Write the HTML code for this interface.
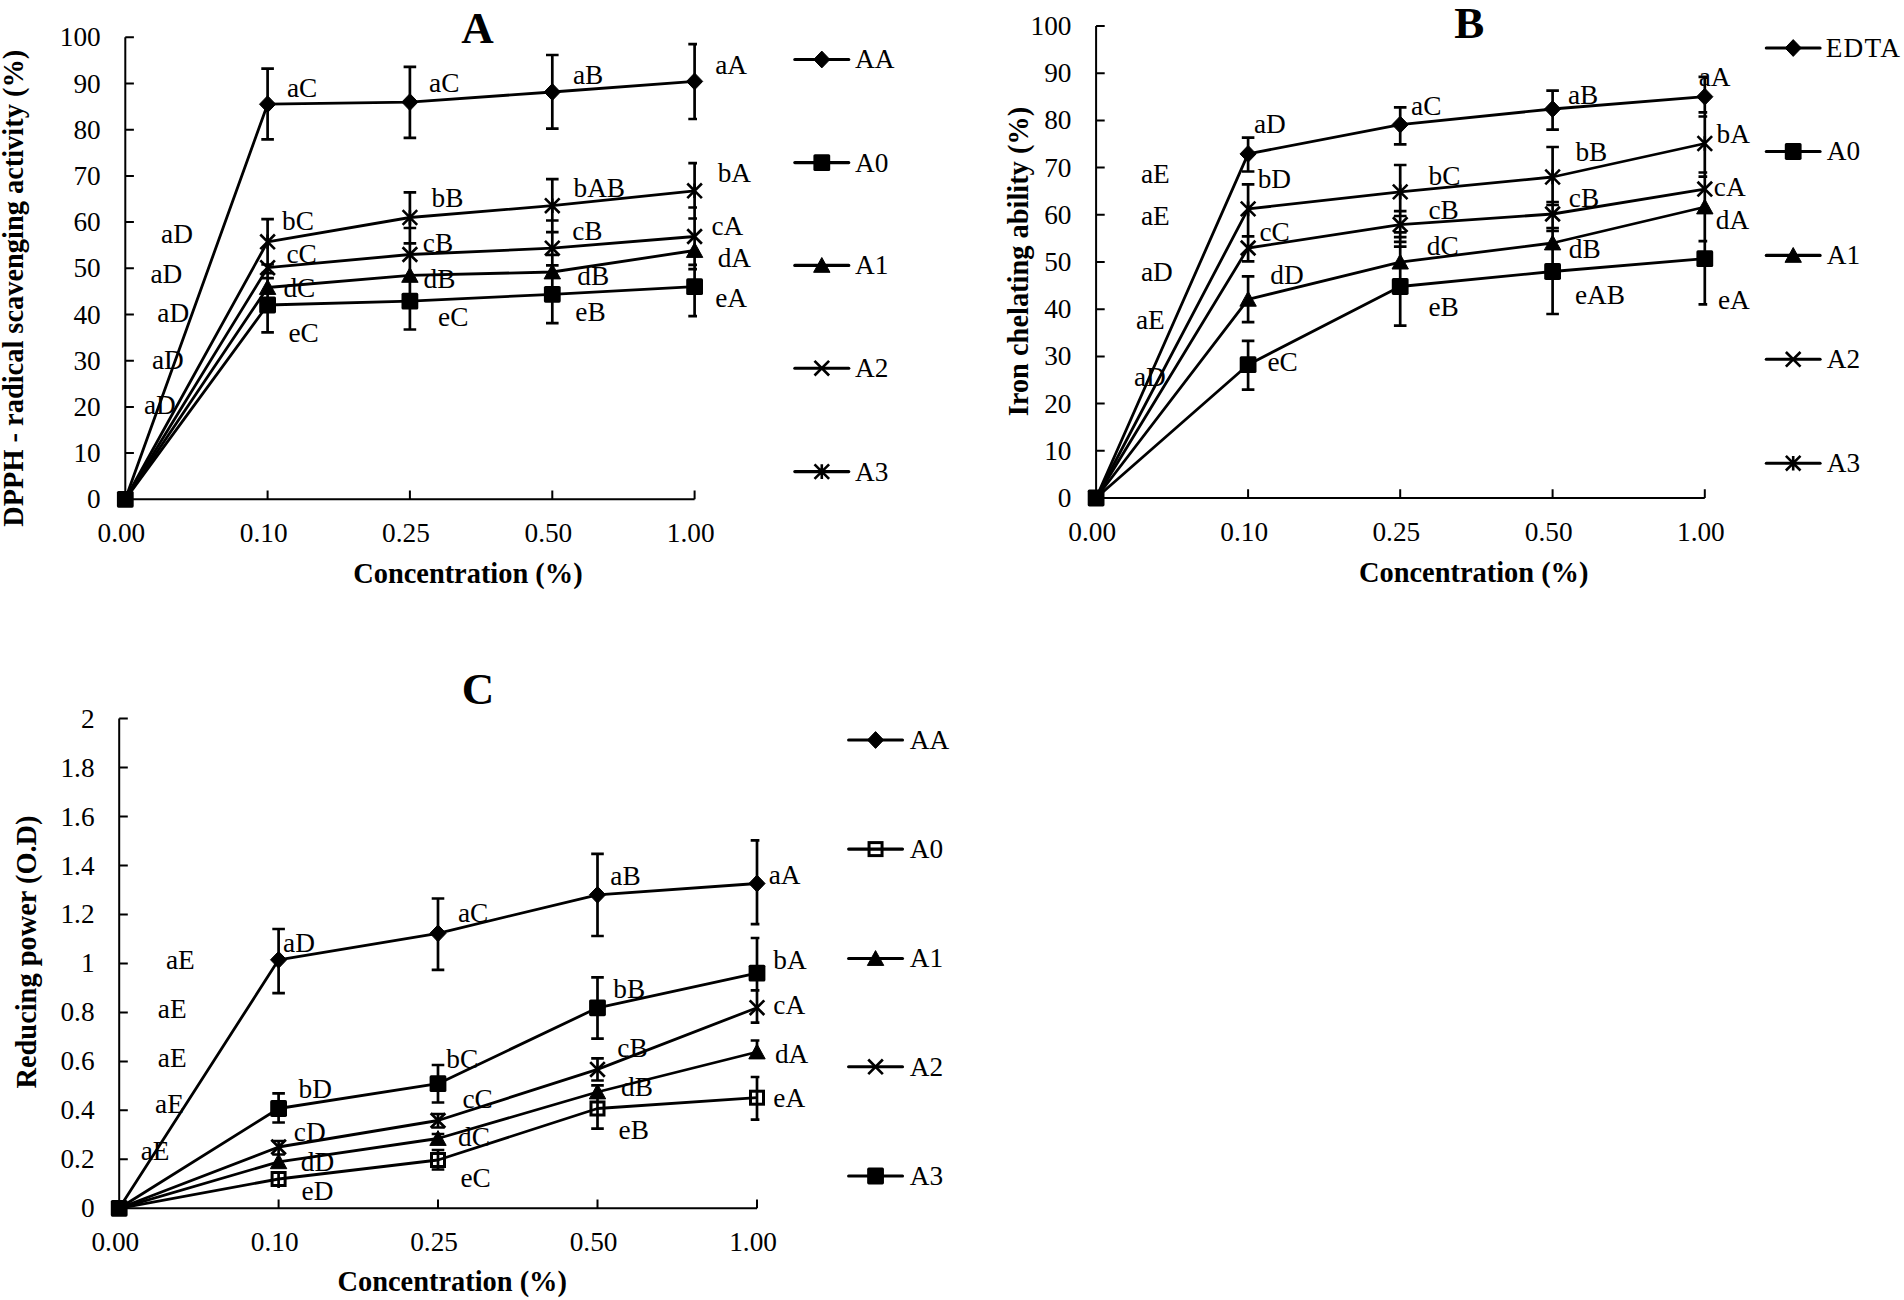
<!DOCTYPE html>
<html><head><meta charset="utf-8"><title>Figure</title>
<style>
html,body{margin:0;padding:0;background:#fff;}
body{width:1904px;height:1300px;overflow:hidden;}
svg{display:block;}
text{font-family:"Liberation Serif","Times New Roman",serif;fill:#000;}
</style></head>
<body>
<svg width="1904" height="1300" viewBox="0 0 1904 1300" font-size="27.3">
<rect width="1904" height="1300" fill="#fff"/>
<clipPath id="clipA"><rect x="105.3" y="0" width="591.7" height="1300"/></clipPath>
<path d="M125.3 37.3L125.3 499.3M125.3 499.3L133.9 499.3M125.3 453.1L133.9 453.1M125.3 406.9L133.9 406.9M125.3 360.7L133.9 360.7M125.3 314.5L133.9 314.5M125.3 268.3L133.9 268.3M125.3 222.1L133.9 222.1M125.3 175.9L133.9 175.9M125.3 129.7L133.9 129.7M125.3 83.5L133.9 83.5M125.3 37.3L133.9 37.3M125.3 499.3L694.6 499.3M267.6 499.3L267.6 490.5M409.9 499.3L409.9 490.5M552.3 499.3L552.3 490.5M694.6 499.3L694.6 490.5" stroke="#000" stroke-width="2" fill="none"/>
<text x="100.7" y="508.3" text-anchor="end">0</text>
<text x="100.7" y="462.1" text-anchor="end">10</text>
<text x="100.7" y="415.9" text-anchor="end">20</text>
<text x="100.7" y="369.7" text-anchor="end">30</text>
<text x="100.7" y="323.5" text-anchor="end">40</text>
<text x="100.7" y="277.3" text-anchor="end">50</text>
<text x="100.7" y="231.1" text-anchor="end">60</text>
<text x="100.7" y="184.9" text-anchor="end">70</text>
<text x="100.7" y="138.7" text-anchor="end">80</text>
<text x="100.7" y="92.5" text-anchor="end">90</text>
<text x="100.7" y="46.3" text-anchor="end">100</text>
<text x="121.4" y="541.9" text-anchor="middle">0.00</text>
<text x="263.7" y="541.9" text-anchor="middle">0.10</text>
<text x="406" y="541.9" text-anchor="middle">0.25</text>
<text x="548.4" y="541.9" text-anchor="middle">0.50</text>
<text x="690.7" y="541.9" text-anchor="middle">1.00</text>
<path d="M267.6 68.6L267.6 139.4M267.6 219.1L267.6 332.3M261.3 68.6L273.9 68.6M261.3 139.4L273.9 139.4M261.3 219.1L273.9 219.1M261.3 264.5L273.9 264.5M261.3 273.2L273.9 273.2M261.3 278.2L273.9 278.2M261.3 332.3L273.9 332.3M409.9 66.8L409.9 137.9M409.9 192.3L409.9 329.5M403.6 66.8L416.2 66.8M403.6 137.9L416.2 137.9M403.6 192.3L416.2 192.3M403.6 228L416.2 228M403.6 243.4L416.2 243.4M403.6 329.5L416.2 329.5M552.3 55L552.3 128.6M552.3 179.2L552.3 323.2M546 55L558.6 55M546 128.6L558.6 128.6M546 179.2L558.6 179.2M546 220.5L558.6 220.5M546 232.2L558.6 232.2M546 254.9L558.6 254.9M546 265.4L558.6 265.4M546 323.2L558.6 323.2M694.6 44.1L694.6 119M694.6 163.2L694.6 316.2M688.3 44.1L700.9 44.1M688.3 119L700.9 119M688.3 163.2L700.9 163.2M688.3 207.5L700.9 207.5M688.3 218.5L700.9 218.5M688.3 264.9L700.9 264.9M688.3 269.1L700.9 269.1M688.3 316.2L700.9 316.2" stroke="#000" stroke-width="2.7" fill="none" clip-path="url(#clipA)"/>
<path d="M125.3 499.3L267.6 104.2L409.9 102.1L552.3 92L694.6 81.4" stroke="#000" stroke-width="2.8" fill="none" stroke-linejoin="round"/>
<path d="M125.3 499.3L267.6 241.8L409.9 217.5L552.3 205.7L694.6 190.8" stroke="#000" stroke-width="2.8" fill="none" stroke-linejoin="round"/>
<path d="M125.3 499.3L267.6 267.7L409.9 254.5L552.3 248.2L694.6 236.5" stroke="#000" stroke-width="2.8" fill="none" stroke-linejoin="round"/>
<path d="M125.3 499.3L267.6 287.5L409.9 275.4L552.3 272L694.6 250.5" stroke="#000" stroke-width="2.8" fill="none" stroke-linejoin="round"/>
<path d="M125.3 499.3L267.6 305L409.9 301.2L552.3 294.3L694.6 286.7" stroke="#000" stroke-width="2.8" fill="none" stroke-linejoin="round"/>
<path d="M259.5 104.2L267.6 95.8L275.7 104.2L267.6 112.6Z" fill="#000" stroke="#000" stroke-width="1"/>
<path d="M401.8 102.1L409.9 93.7L418 102.1L409.9 110.5Z" fill="#000" stroke="#000" stroke-width="1"/>
<path d="M544.2 92L552.3 83.6L560.4 92L552.3 100.4Z" fill="#000" stroke="#000" stroke-width="1"/>
<path d="M686.5 81.4L694.6 73L702.7 81.4L694.6 89.8Z" fill="#000" stroke="#000" stroke-width="1"/>
<path d="M260.3 234.5L274.9 249.1M260.3 249.1L274.9 234.5M267.6 234.5L267.6 249.1" stroke="#000" stroke-width="2.6" fill="none"/>
<path d="M402.6 210.2L417.2 224.8M402.6 224.8L417.2 210.2M409.9 210.2L409.9 224.8" stroke="#000" stroke-width="2.6" fill="none"/>
<path d="M545 198.4L559.6 213M545 213L559.6 198.4M552.3 198.4L552.3 213" stroke="#000" stroke-width="2.6" fill="none"/>
<path d="M687.3 183.5L701.9 198.1M687.3 198.1L701.9 183.5M694.6 183.5L694.6 198.1" stroke="#000" stroke-width="2.6" fill="none"/>
<path d="M260.3 260.4L274.9 275M260.3 275L274.9 260.4" stroke="#000" stroke-width="2.7" fill="none"/>
<path d="M402.6 247.2L417.2 261.8M402.6 261.8L417.2 247.2" stroke="#000" stroke-width="2.7" fill="none"/>
<path d="M545 240.9L559.6 255.5M545 255.5L559.6 240.9" stroke="#000" stroke-width="2.7" fill="none"/>
<path d="M687.3 229.2L701.9 243.8M687.3 243.8L701.9 229.2" stroke="#000" stroke-width="2.7" fill="none"/>
<path d="M267.6 279.6L275.8 294.4L259.4 294.4Z" fill="#000" stroke="#000" stroke-width="1" stroke-linejoin="round"/>
<path d="M409.9 267.5L418.1 282.3L401.7 282.3Z" fill="#000" stroke="#000" stroke-width="1" stroke-linejoin="round"/>
<path d="M552.3 264.1L560.5 278.9L544.1 278.9Z" fill="#000" stroke="#000" stroke-width="1" stroke-linejoin="round"/>
<path d="M694.6 242.6L702.8 257.4L686.4 257.4Z" fill="#000" stroke="#000" stroke-width="1" stroke-linejoin="round"/>
<rect x="259.2" y="296.6" width="16.8" height="16.8" rx="1.6" fill="#000"/>
<rect x="401.5" y="292.8" width="16.8" height="16.8" rx="1.6" fill="#000"/>
<rect x="543.9" y="285.9" width="16.8" height="16.8" rx="1.6" fill="#000"/>
<rect x="686.2" y="278.3" width="16.8" height="16.8" rx="1.6" fill="#000"/>
<rect x="116.9" y="490.9" width="16.8" height="16.8" rx="1.6" fill="#000"/>
<text x="286.9" y="96.8">aC</text>
<text x="429.1" y="91.6">aC</text>
<text x="573" y="83.5">aB</text>
<text x="715.2" y="73.9">aA</text>
<text x="282.1" y="229.9">bC</text>
<text x="431.6" y="207">bB</text>
<text x="573.5" y="196.9">bAB</text>
<text x="717.7" y="182.3">bA</text>
<text x="286.5" y="263.3">cC</text>
<text x="422.8" y="251.6">cB</text>
<text x="572.2" y="239.8">cB</text>
<text x="711.4" y="235.2">cA</text>
<text x="283.4" y="296.7">dC</text>
<text x="423.5" y="288.4">dB</text>
<text x="577.3" y="284.6">dB</text>
<text x="717.7" y="266.7">dA</text>
<text x="288.4" y="341.5">eC</text>
<text x="438.1" y="325.7">eC</text>
<text x="575.3" y="320.6">eB</text>
<text x="715.2" y="306.8">eA</text>
<text x="161.1" y="243.2">aD</text>
<text x="150.4" y="283.1">aD</text>
<text x="157.3" y="321.9">aD</text>
<text x="152" y="369">aD</text>
<text x="143.9" y="413.9">aD</text>
<text x="461.3" y="42.6" font-weight="bold" font-size="45">A</text>
<text x="353.2" y="583" font-weight="bold" font-size="28.4">Concentration (%)</text>
<text x="23.4" y="288.3" text-anchor="middle" font-weight="bold" font-size="28.4" transform="rotate(-90 23.4 288.3)">DPPH - radical scavenging activity (%)</text>
<path d="M794.8 59.5L848.8 59.5" stroke="#000" stroke-width="3.1" stroke-linecap="round"/>
<path d="M813.7 59.5L821.8 51.1L829.9 59.5L821.8 67.9Z" fill="#000" stroke="#000" stroke-width="1"/>
<text x="855" y="68.4">AA</text>
<path d="M794.8 162.6L848.8 162.6" stroke="#000" stroke-width="3.1" stroke-linecap="round"/>
<rect x="813.4" y="154.2" width="16.8" height="16.8" rx="1.6" fill="#000"/>
<text x="855" y="171.5">A0</text>
<path d="M794.8 265.4L848.8 265.4" stroke="#000" stroke-width="3.1" stroke-linecap="round"/>
<path d="M821.8 257.5L830 272.3L813.6 272.3Z" fill="#000" stroke="#000" stroke-width="1" stroke-linejoin="round"/>
<text x="855" y="274.3">A1</text>
<path d="M794.8 368.2L848.8 368.2" stroke="#000" stroke-width="3.1" stroke-linecap="round"/>
<path d="M814.5 360.9L829.1 375.5M814.5 375.5L829.1 360.9" stroke="#000" stroke-width="2.7" fill="none"/>
<text x="855" y="377.1">A2</text>
<path d="M794.8 471.6L848.8 471.6" stroke="#000" stroke-width="3.1" stroke-linecap="round"/>
<path d="M814.5 464.3L829.1 478.9M814.5 478.9L829.1 464.3M821.8 464.3L821.8 478.9" stroke="#000" stroke-width="2.6" fill="none"/>
<text x="855" y="480.5">A3</text>
<clipPath id="clipB"><rect x="1076.1" y="0" width="631.1" height="1300"/></clipPath>
<path d="M1096.1 26L1096.1 498M1096.1 498L1104.7 498M1096.1 450.8L1104.7 450.8M1096.1 403.6L1104.7 403.6M1096.1 356.4L1104.7 356.4M1096.1 309.2L1104.7 309.2M1096.1 262L1104.7 262M1096.1 214.8L1104.7 214.8M1096.1 167.6L1104.7 167.6M1096.1 120.4L1104.7 120.4M1096.1 73.2L1104.7 73.2M1096.1 26L1104.7 26M1096.1 498L1704.8 498M1248.1 498L1248.1 489.2M1400.2 498L1400.2 489.2M1552.6 498L1552.6 489.2M1704.8 498L1704.8 489.2" stroke="#000" stroke-width="2" fill="none"/>
<text x="1071.5" y="507" text-anchor="end">0</text>
<text x="1071.5" y="459.8" text-anchor="end">10</text>
<text x="1071.5" y="412.6" text-anchor="end">20</text>
<text x="1071.5" y="365.4" text-anchor="end">30</text>
<text x="1071.5" y="318.2" text-anchor="end">40</text>
<text x="1071.5" y="271" text-anchor="end">50</text>
<text x="1071.5" y="223.8" text-anchor="end">60</text>
<text x="1071.5" y="176.6" text-anchor="end">70</text>
<text x="1071.5" y="129.4" text-anchor="end">80</text>
<text x="1071.5" y="82.2" text-anchor="end">90</text>
<text x="1071.5" y="35" text-anchor="end">100</text>
<text x="1092.2" y="540.6" text-anchor="middle">0.00</text>
<text x="1244.2" y="540.6" text-anchor="middle">0.10</text>
<text x="1396.3" y="540.6" text-anchor="middle">0.25</text>
<text x="1548.7" y="540.6" text-anchor="middle">0.50</text>
<text x="1700.9" y="540.6" text-anchor="middle">1.00</text>
<path d="M1248.1 137.7L1248.1 171.5M1248.1 184.4L1248.1 261.3M1248.1 276.4L1248.1 322.1M1248.1 340.8L1248.1 389.6M1241.8 137.7L1254.4 137.7M1241.8 171.5L1254.4 171.5M1241.8 184.4L1254.4 184.4M1241.8 236.3L1254.4 236.3M1241.8 261.3L1254.4 261.3M1241.8 276.4L1254.4 276.4M1241.8 322.1L1254.4 322.1M1241.8 340.8L1254.4 340.8M1241.8 389.6L1254.4 389.6M1400.2 107.3L1400.2 144.4M1400.2 165L1400.2 325.6M1393.9 107.3L1406.5 107.3M1393.9 144.4L1406.5 144.4M1393.9 165L1406.5 165M1393.9 211.2L1406.5 211.2M1393.9 216L1406.5 216M1393.9 232.3L1406.5 232.3M1393.9 237.1L1406.5 237.1M1393.9 241.9L1406.5 241.9M1393.9 246.7L1406.5 246.7M1393.9 325.6L1406.5 325.6M1552.6 90.6L1552.6 129.6M1552.6 147L1552.6 314M1546.3 90.6L1558.9 90.6M1546.3 129.6L1558.9 129.6M1546.3 147L1558.9 147M1546.3 202L1558.9 202M1546.3 205L1558.9 205M1546.3 228L1558.9 228M1546.3 231L1558.9 231M1546.3 314L1558.9 314M1704.8 76.9L1704.8 304.4M1698.5 76.9L1711.1 76.9M1698.5 112.3L1711.1 112.3M1698.5 116.5L1711.1 116.5M1698.5 172.5L1711.1 172.5M1698.5 176.7L1711.1 176.7M1698.5 241.1L1711.1 241.1M1698.5 304.4L1711.1 304.4" stroke="#000" stroke-width="2.7" fill="none" clip-path="url(#clipB)"/>
<path d="M1096.1 498L1248.1 153.9L1400.2 124.6L1552.6 109L1704.8 96.7" stroke="#000" stroke-width="2.8" fill="none" stroke-linejoin="round"/>
<path d="M1096.1 498L1248.1 208.9L1400.2 191.9L1552.6 177L1704.8 143.5" stroke="#000" stroke-width="2.8" fill="none" stroke-linejoin="round"/>
<path d="M1096.1 498L1248.1 248L1400.2 224.6L1552.6 214L1704.8 189.1" stroke="#000" stroke-width="2.8" fill="none" stroke-linejoin="round"/>
<path d="M1096.1 498L1248.1 299.3L1400.2 262.1L1552.6 243L1704.8 207" stroke="#000" stroke-width="2.8" fill="none" stroke-linejoin="round"/>
<path d="M1096.1 498L1248.1 364.7L1400.2 286.5L1552.6 271.5L1704.8 258.7" stroke="#000" stroke-width="2.8" fill="none" stroke-linejoin="round"/>
<path d="M1240 153.9L1248.1 145.5L1256.2 153.9L1248.1 162.3Z" fill="#000" stroke="#000" stroke-width="1"/>
<path d="M1392.1 124.6L1400.2 116.2L1408.3 124.6L1400.2 133Z" fill="#000" stroke="#000" stroke-width="1"/>
<path d="M1544.5 109L1552.6 100.6L1560.7 109L1552.6 117.4Z" fill="#000" stroke="#000" stroke-width="1"/>
<path d="M1696.7 96.7L1704.8 88.3L1712.9 96.7L1704.8 105.1Z" fill="#000" stroke="#000" stroke-width="1"/>
<path d="M1240.8 201.6L1255.4 216.2M1240.8 216.2L1255.4 201.6M1248.1 201.6L1248.1 216.2" stroke="#000" stroke-width="2.6" fill="none"/>
<path d="M1392.9 184.6L1407.5 199.2M1392.9 199.2L1407.5 184.6M1400.2 184.6L1400.2 199.2" stroke="#000" stroke-width="2.6" fill="none"/>
<path d="M1545.3 169.7L1559.9 184.3M1545.3 184.3L1559.9 169.7M1552.6 169.7L1552.6 184.3" stroke="#000" stroke-width="2.6" fill="none"/>
<path d="M1697.5 136.2L1712.1 150.8M1697.5 150.8L1712.1 136.2M1704.8 136.2L1704.8 150.8" stroke="#000" stroke-width="2.6" fill="none"/>
<path d="M1240.8 240.7L1255.4 255.3M1240.8 255.3L1255.4 240.7" stroke="#000" stroke-width="2.7" fill="none"/>
<path d="M1392.9 217.3L1407.5 231.9M1392.9 231.9L1407.5 217.3" stroke="#000" stroke-width="2.7" fill="none"/>
<path d="M1545.3 206.7L1559.9 221.3M1545.3 221.3L1559.9 206.7" stroke="#000" stroke-width="2.7" fill="none"/>
<path d="M1697.5 181.8L1712.1 196.4M1697.5 196.4L1712.1 181.8" stroke="#000" stroke-width="2.7" fill="none"/>
<path d="M1248.1 291.4L1256.3 306.2L1239.9 306.2Z" fill="#000" stroke="#000" stroke-width="1" stroke-linejoin="round"/>
<path d="M1400.2 254.2L1408.4 269L1392 269Z" fill="#000" stroke="#000" stroke-width="1" stroke-linejoin="round"/>
<path d="M1552.6 235.1L1560.8 249.9L1544.4 249.9Z" fill="#000" stroke="#000" stroke-width="1" stroke-linejoin="round"/>
<path d="M1704.8 199.1L1713 213.9L1696.6 213.9Z" fill="#000" stroke="#000" stroke-width="1" stroke-linejoin="round"/>
<rect x="1239.7" y="356.3" width="16.8" height="16.8" rx="1.6" fill="#000"/>
<rect x="1391.8" y="278.1" width="16.8" height="16.8" rx="1.6" fill="#000"/>
<rect x="1544.2" y="263.1" width="16.8" height="16.8" rx="1.6" fill="#000"/>
<rect x="1696.4" y="250.3" width="16.8" height="16.8" rx="1.6" fill="#000"/>
<rect x="1087.7" y="489.6" width="16.8" height="16.8" rx="1.6" fill="#000"/>
<text x="1253.9" y="133.1">aD</text>
<text x="1411.1" y="114.5">aC</text>
<text x="1568" y="103.5">aB</text>
<text x="1698.7" y="85.6">aA</text>
<text x="1257.7" y="188.1">bD</text>
<text x="1428.5" y="185.2">bC</text>
<text x="1575.4" y="161.3">bB</text>
<text x="1716.6" y="142.8">bA</text>
<text x="1259.5" y="241">cC</text>
<text x="1428.5" y="219.1">cB</text>
<text x="1568.8" y="206.7">cB</text>
<text x="1713.8" y="195.7">cA</text>
<text x="1270.3" y="283.9">dD</text>
<text x="1426.8" y="254.8">dC</text>
<text x="1568.8" y="257.6">dB</text>
<text x="1715.8" y="229.2">dA</text>
<text x="1267.5" y="371">eC</text>
<text x="1428.5" y="316.2">eB</text>
<text x="1574.9" y="303.5">eAB</text>
<text x="1718" y="308.5">eA</text>
<text x="1141" y="183.1">aE</text>
<text x="1141" y="224.7">aE</text>
<text x="1141" y="280.6">aD</text>
<text x="1136" y="328.7">aE</text>
<text x="1133.9" y="386.2">aD</text>
<text x="1454.2" y="37.7" font-weight="bold" font-size="45">B</text>
<text x="1359" y="582.2" font-weight="bold" font-size="28.4">Concentration (%)</text>
<text x="1027.7" y="261.5" text-anchor="middle" font-weight="bold" font-size="28.4" transform="rotate(-90 1027.7 261.5)">Iron chelating ability (%)</text>
<path d="M1766.3 48L1820.1 48" stroke="#000" stroke-width="3.1" stroke-linecap="round"/>
<path d="M1785.1 48L1793.2 39.6L1801.3 48L1793.2 56.4Z" fill="#000" stroke="#000" stroke-width="1"/>
<text x="1825.7" y="56.9" letter-spacing="1.25">EDTA</text>
<path d="M1766.3 151.5L1820.1 151.5" stroke="#000" stroke-width="3.1" stroke-linecap="round"/>
<rect x="1784.8" y="143.1" width="16.8" height="16.8" rx="1.6" fill="#000"/>
<text x="1826.7" y="160.4">A0</text>
<path d="M1766.3 255.4L1820.1 255.4" stroke="#000" stroke-width="3.1" stroke-linecap="round"/>
<path d="M1793.2 247.5L1801.4 262.3L1785 262.3Z" fill="#000" stroke="#000" stroke-width="1" stroke-linejoin="round"/>
<text x="1826.7" y="264.3">A1</text>
<path d="M1766.3 359.3L1820.1 359.3" stroke="#000" stroke-width="3.1" stroke-linecap="round"/>
<path d="M1785.9 352L1800.5 366.6M1785.9 366.6L1800.5 352" stroke="#000" stroke-width="2.7" fill="none"/>
<text x="1826.7" y="368.2">A2</text>
<path d="M1766.3 463.2L1820.1 463.2" stroke="#000" stroke-width="3.1" stroke-linecap="round"/>
<path d="M1785.9 455.9L1800.5 470.5M1785.9 470.5L1800.5 455.9M1793.2 455.9L1793.2 470.5" stroke="#000" stroke-width="2.6" fill="none"/>
<text x="1826.7" y="472.1">A3</text>
<clipPath id="clipC"><rect x="99.2" y="0" width="660.2" height="1300"/></clipPath>
<path d="M119.2 718.6L119.2 1208.3M119.2 1208.3L127.8 1208.3M119.2 1159.33L127.8 1159.33M119.2 1110.36L127.8 1110.36M119.2 1061.39L127.8 1061.39M119.2 1012.42L127.8 1012.42M119.2 963.45L127.8 963.45M119.2 914.48L127.8 914.48M119.2 865.51L127.8 865.51M119.2 816.54L127.8 816.54M119.2 767.57L127.8 767.57M119.2 718.6L127.8 718.6M119.2 1208.3L757 1208.3M278.6 1208.3L278.6 1199.5M438 1208.3L438 1199.5M597.5 1208.3L597.5 1199.5M757 1208.3L757 1199.5" stroke="#000" stroke-width="2" fill="none"/>
<text x="94.6" y="1217.3" text-anchor="end">0</text>
<text x="94.6" y="1168.33" text-anchor="end">0.2</text>
<text x="94.6" y="1119.36" text-anchor="end">0.4</text>
<text x="94.6" y="1070.39" text-anchor="end">0.6</text>
<text x="94.6" y="1021.42" text-anchor="end">0.8</text>
<text x="94.6" y="972.45" text-anchor="end">1</text>
<text x="94.6" y="923.48" text-anchor="end">1.2</text>
<text x="94.6" y="874.51" text-anchor="end">1.4</text>
<text x="94.6" y="825.54" text-anchor="end">1.6</text>
<text x="94.6" y="776.57" text-anchor="end">1.8</text>
<text x="94.6" y="727.6" text-anchor="end">2</text>
<text x="115.3" y="1250.9" text-anchor="middle">0.00</text>
<text x="274.7" y="1250.9" text-anchor="middle">0.10</text>
<text x="434.1" y="1250.9" text-anchor="middle">0.25</text>
<text x="593.6" y="1250.9" text-anchor="middle">0.50</text>
<text x="753.1" y="1250.9" text-anchor="middle">1.00</text>
<path d="M278.6 929L278.6 993.2M278.6 1093.4L278.6 1122.5M278.6 1141L278.6 1154.5M278.6 1171L278.6 1188M272.3 929L284.9 929M272.3 993.2L284.9 993.2M272.3 1093.4L284.9 1093.4M272.3 1122.5L284.9 1122.5M272.3 1141L284.9 1141M272.3 1154.5L284.9 1154.5M438 898.5L438 969.8M438 1065L438 1102.5M438 1114L438 1127.5M438 1134L438 1143M438 1150L438 1169.5M431.7 898.5L444.3 898.5M431.7 969.8L444.3 969.8M431.7 1065L444.3 1065M431.7 1102.5L444.3 1102.5M431.7 1114L444.3 1114M431.7 1127.5L444.3 1127.5M431.7 1134L444.3 1134M431.7 1150L444.3 1150M431.7 1169.5L444.3 1169.5M597.5 853.8L597.5 936M597.5 977.3L597.5 1038.6M597.5 1058.3L597.5 1080.5M597.5 1085.3L597.5 1128.6M591.2 853.8L603.8 853.8M591.2 936L603.8 936M591.2 977.3L603.8 977.3M591.2 1038.6L603.8 1038.6M591.2 1058.3L603.8 1058.3M591.2 1080.5L603.8 1080.5M591.2 1085.3L603.8 1085.3M591.2 1128.6L603.8 1128.6M757 840.4L757 924.2M757 938L757 1022.7M757 1040.5L757 1052M757 1077L757 1119.6M750.7 840.4L763.3 840.4M750.7 924.2L763.3 924.2M750.7 938L763.3 938M750.7 990.4L763.3 990.4M750.7 1022.7L763.3 1022.7M750.7 1040.5L763.3 1040.5M750.7 1077L763.3 1077M750.7 1119.6L763.3 1119.6" stroke="#000" stroke-width="2.7" fill="none" clip-path="url(#clipC)"/>
<path d="M119.2 1208.3L278.6 959.8L438 933.3L597.5 894.8L757 883.5" stroke="#000" stroke-width="2.8" fill="none" stroke-linejoin="round"/>
<path d="M119.2 1208.3L278.6 1179L438 1160L597.5 1108.5L757 1097.7" stroke="#000" stroke-width="2.8" fill="none" stroke-linejoin="round"/>
<path d="M119.2 1208.3L278.6 1161.8L438 1138.5L597.5 1092L757 1052" stroke="#000" stroke-width="2.8" fill="none" stroke-linejoin="round"/>
<path d="M119.2 1208.3L278.6 1147L438 1120.5L597.5 1069.4L757 1007.7" stroke="#000" stroke-width="2.8" fill="none" stroke-linejoin="round"/>
<path d="M119.2 1208.3L278.6 1108.5L438 1083.7L597.5 1007.8L757 973.1" stroke="#000" stroke-width="2.8" fill="none" stroke-linejoin="round"/>
<path d="M270.5 959.8L278.6 951.4L286.7 959.8L278.6 968.2Z" fill="#000" stroke="#000" stroke-width="1"/>
<path d="M429.9 933.3L438 924.9L446.1 933.3L438 941.7Z" fill="#000" stroke="#000" stroke-width="1"/>
<path d="M589.4 894.8L597.5 886.4L605.6 894.8L597.5 903.2Z" fill="#000" stroke="#000" stroke-width="1"/>
<path d="M748.9 883.5L757 875.1L765.1 883.5L757 891.9Z" fill="#000" stroke="#000" stroke-width="1"/>
<rect x="272.1" y="1172.5" width="13" height="13" fill="none" stroke="#000" stroke-width="3"/>
<rect x="431.5" y="1153.5" width="13" height="13" fill="none" stroke="#000" stroke-width="3"/>
<rect x="591" y="1102" width="13" height="13" fill="none" stroke="#000" stroke-width="3"/>
<rect x="750.5" y="1091.2" width="13" height="13" fill="none" stroke="#000" stroke-width="3"/>
<path d="M278.6 1153.9L286.8 1168.7L270.4 1168.7Z" fill="#000" stroke="#000" stroke-width="1" stroke-linejoin="round"/>
<path d="M438 1130.6L446.2 1145.4L429.8 1145.4Z" fill="#000" stroke="#000" stroke-width="1" stroke-linejoin="round"/>
<path d="M597.5 1084.1L605.7 1098.9L589.3 1098.9Z" fill="#000" stroke="#000" stroke-width="1" stroke-linejoin="round"/>
<path d="M757 1044.1L765.2 1058.9L748.8 1058.9Z" fill="#000" stroke="#000" stroke-width="1" stroke-linejoin="round"/>
<path d="M271.3 1139.7L285.9 1154.3M271.3 1154.3L285.9 1139.7" stroke="#000" stroke-width="2.7" fill="none"/>
<path d="M430.7 1113.2L445.3 1127.8M430.7 1127.8L445.3 1113.2" stroke="#000" stroke-width="2.7" fill="none"/>
<path d="M590.2 1062.1L604.8 1076.7M590.2 1076.7L604.8 1062.1" stroke="#000" stroke-width="2.7" fill="none"/>
<path d="M749.7 1000.4L764.3 1015M749.7 1015L764.3 1000.4" stroke="#000" stroke-width="2.7" fill="none"/>
<rect x="270.2" y="1100.1" width="16.8" height="16.8" rx="1.6" fill="#000"/>
<rect x="429.6" y="1075.3" width="16.8" height="16.8" rx="1.6" fill="#000"/>
<rect x="589.1" y="999.4" width="16.8" height="16.8" rx="1.6" fill="#000"/>
<rect x="748.6" y="964.7" width="16.8" height="16.8" rx="1.6" fill="#000"/>
<rect x="110.8" y="1199.9" width="16.8" height="16.8" rx="1.6" fill="#000"/>
<text x="165.9" y="969.1">aE</text>
<text x="157.8" y="1017.8">aE</text>
<text x="157.8" y="1067">aE</text>
<text x="155.1" y="1113.3">aE</text>
<text x="140.7" y="1160.4">aE</text>
<text x="283.1" y="952.2">aD</text>
<text x="458" y="921.8">aC</text>
<text x="610.3" y="884.9">aB</text>
<text x="768.7" y="884">aA</text>
<text x="298.5" y="1098.4">bD</text>
<text x="446.3" y="1068">bC</text>
<text x="613.3" y="998.1">bB</text>
<text x="773.3" y="968.9">bA</text>
<text x="293.8" y="1141.3">cD</text>
<text x="462.5" y="1108">cC</text>
<text x="617.3" y="1056.6">cB</text>
<text x="773.3" y="1014.1">cA</text>
<text x="300.8" y="1170.9">dD</text>
<text x="458" y="1145.8">dC</text>
<text x="621" y="1095.7">dB</text>
<text x="774.9" y="1062.5">dA</text>
<text x="301.6" y="1199.6">eD</text>
<text x="460.4" y="1186.5">eC</text>
<text x="618.6" y="1139.4">eB</text>
<text x="773.3" y="1106.5">eA</text>
<text x="461.8" y="703.6" font-weight="bold" font-size="45">C</text>
<text x="337.5" y="1290.9" font-weight="bold" font-size="28.4">Concentration (%)</text>
<text x="36.3" y="952" text-anchor="middle" font-weight="bold" font-size="28.4" transform="rotate(-90 36.3 952)">Reducing power (O.D)</text>
<path d="M848.6 740L902.5 740" stroke="#000" stroke-width="3.1" stroke-linecap="round"/>
<path d="M867.45 740L875.55 731.6L883.65 740L875.55 748.4Z" fill="#000" stroke="#000" stroke-width="1"/>
<text x="909.8" y="748.9">AA</text>
<path d="M848.6 849.1L902.5 849.1" stroke="#000" stroke-width="3.1" stroke-linecap="round"/>
<rect x="869.05" y="842.6" width="13" height="13" fill="none" stroke="#000" stroke-width="3"/>
<text x="909.8" y="858">A0</text>
<path d="M848.6 958.5L902.5 958.5" stroke="#000" stroke-width="3.1" stroke-linecap="round"/>
<path d="M875.55 950.6L883.75 965.4L867.35 965.4Z" fill="#000" stroke="#000" stroke-width="1" stroke-linejoin="round"/>
<text x="909.8" y="967.4">A1</text>
<path d="M848.6 1066.8L902.5 1066.8" stroke="#000" stroke-width="3.1" stroke-linecap="round"/>
<path d="M868.25 1059.5L882.85 1074.1M868.25 1074.1L882.85 1059.5" stroke="#000" stroke-width="2.7" fill="none"/>
<text x="909.8" y="1075.7">A2</text>
<path d="M848.6 1176L902.5 1176" stroke="#000" stroke-width="3.1" stroke-linecap="round"/>
<rect x="867.15" y="1167.6" width="16.8" height="16.8" rx="1.6" fill="#000"/>
<text x="909.8" y="1184.9">A3</text>
</svg>
</body></html>
